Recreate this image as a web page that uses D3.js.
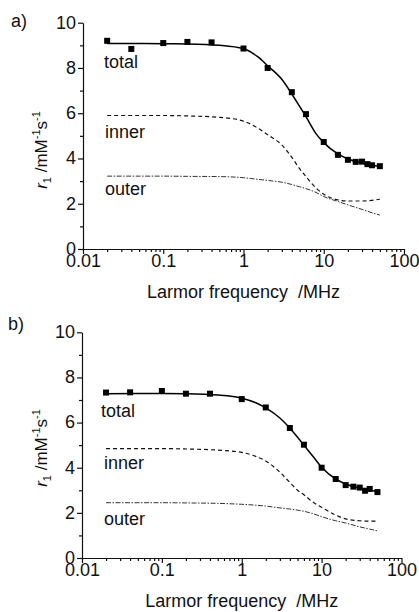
<!DOCTYPE html>
<html>
<head>
<meta charset="utf-8">
<script src="https://cdn.jsdelivr.net/npm/d3@7"></script>
<style>
  body { margin: 0; background: #fff; }
  svg { display: block; font-family: Arial, "Liberation Sans", sans-serif; }
</style>
</head>
<body>
<div id="chart"></div>
<script>
// measured points (MHz)
const pointFreq = [0.02, 0.04, 0.1, 0.2, 0.4, 1, 2, 4, 6, 10, 15, 20, 25, 30, 35, 40, 50];
const pointsA = [9.2, 8.84, 9.1, 9.15, 9.13, 8.86, 8.0, 6.93, 5.96, 4.73, 4.16, 3.94, 3.85, 3.86, 3.75, 3.7, 3.66];
const pointsB = [7.33, 7.34, 7.4, 7.28, 7.28, 7.04, 6.67, 5.76, 5.02, 4.0, 3.5, 3.23, 3.16, 3.12, 2.98, 3.06, 2.92];

// fitted curves
const curveFreq = [0.02, 0.05, 0.1, 0.2, 0.5, 1, 1.5, 2, 3, 4, 5, 6, 8, 10, 15, 20, 30, 40, 50];
const totalA = [9.08, 9.08, 9.07, 9.06, 9.0, 8.85, 8.5, 8.1, 7.5, 6.85, 6.3, 5.85, 5.1, 4.7, 4.2, 3.98, 3.8, 3.7, 3.65];
const innerA = [5.9, 5.9, 5.9, 5.88, 5.82, 5.65, 5.35, 5.05, 4.6, 4.05, 3.55, 3.2, 2.7, 2.42, 2.17, 2.12, 2.12, 2.15, 2.2];
const outerA = [3.22, 3.22, 3.22, 3.21, 3.2, 3.15, 3.08, 3.03, 2.95, 2.85, 2.75, 2.67, 2.5, 2.32, 2.1, 1.95, 1.75, 1.6, 1.5];
const totalB = [7.28, 7.29, 7.29, 7.28, 7.22, 7.08, 6.88, 6.65, 6.2, 5.75, 5.35, 5.0, 4.45, 4.02, 3.5, 3.28, 3.1, 3.0, 2.95];
const innerB = [4.85, 4.85, 4.85, 4.83, 4.78, 4.68, 4.5, 4.3, 3.8, 3.35, 3.0, 2.8, 2.45, 2.25, 1.9, 1.73, 1.65, 1.63, 1.63];
const outerB = [2.45, 2.45, 2.45, 2.44, 2.42, 2.38, 2.34, 2.3, 2.22, 2.17, 2.12, 2.07, 1.95, 1.83, 1.65, 1.55, 1.38, 1.28, 1.2];

const xMajor = [0.01, 0.1, 1, 10, 100];
const xMinor = [];
[0.01, 0.1, 1, 10].forEach(d => { for (let k = 2; k <= 9; k++) xMinor.push(d * k); });
const yMajor = [0, 2, 4, 6, 8, 10];
const yMinor = [1, 3, 5, 7, 9];

const width = 419, height = 612;
const svg = d3.select("#chart").append("svg")
    .attr("width", width)
    .attr("height", height);

function drawPanel(opt) {
    const x = d3.scaleLog().domain([0.01, 100]).range([opt.x0, opt.x1]);
    const y = d3.scaleLinear().domain([0, 10]).range([opt.y0, opt.y1]);
    const g = svg.append("g");

    // minor ticks first
    g.append("g")
        .attr("transform", `translate(0,${opt.y0})`)
        .call(d3.axisBottom(x).tickValues(xMinor).tickSize(3).tickFormat(""))
        .call(a => a.select(".domain").remove());
    g.append("g")
        .attr("transform", `translate(${opt.x0},0)`)
        .call(d3.axisLeft(y).tickValues(yMinor).tickSize(3).tickFormat(""))
        .call(a => a.select(".domain").remove());

    g.append("g")
        .attr("transform", `translate(0,${opt.y0})`)
        .call(d3.axisBottom(x).tickValues(xMajor).tickSizeInner(5).tickSizeOuter(0)
            .tickPadding(0).tickFormat(d3.format("~g")));
    const yAxis = g.append("g")
        .attr("transform", `translate(${opt.x0},0)`)
        .call(d3.axisLeft(y).tickValues(yMajor).tickSizeInner(5).tickSizeOuter(0)
            .tickPadding(2));
    yAxis.selectAll(".tick text").attr("dy", "0.3em");
    g.selectAll(".tick text").attr("font-size", 18).attr("font-family", null).attr("fill", "#111");
    g.selectAll(".tick line, .domain").attr("stroke", "#111").attr("stroke-width", 1.2);

    // curves
    const line = d3.line()
        .x((d, i) => x(curveFreq[i]))
        .y(d => y(d))
        .curve(d3.curveMonotoneX);

    g.append("path").datum(opt.outer)
        .attr("d", line).attr("fill", "none")
        .attr("stroke", "#333").attr("stroke-width", 1)
        .attr("stroke-dasharray", "5,1.5,1.5,1.5");
    g.append("path").datum(opt.inner)
        .attr("d", line).attr("fill", "none")
        .attr("stroke", "#111").attr("stroke-width", 1.2)
        .attr("stroke-dasharray", "4,3");
    g.append("path").datum(opt.total)
        .attr("d", line).attr("fill", "none")
        .attr("stroke", "#000").attr("stroke-width", 1.5);

    g.selectAll(".pt").data(opt.points).enter().append("rect")
        .attr("class", "pt")
        .attr("x", (d, i) => x(pointFreq[i]) - 3)
        .attr("y", d => y(d) - 3)
        .attr("width", 6).attr("height", 6)
        .attr("fill", "#000");

    // curve names
    opt.names.forEach(n => {
        g.append("text").attr("x", n.x).attr("y", n.y)
            .attr("font-size", 18).attr("fill", "#111").text(n.t);
    });

    g.append("text").attr("x", opt.tagX).attr("y", opt.tagY)
        .attr("font-size", 18).attr("fill", "#111").text(opt.tag);

    g.append("text")
        .attr("x", (opt.x0 + opt.x1) / 2)
        .attr("y", opt.y0 + 49)
        .attr("text-anchor", "middle")
        .attr("font-size", 18).attr("fill", "#111")
        .attr("xml:space", "preserve")
        .text("Larmor frequency  /MHz");

    const yl = g.append("text")
        .attr("transform", `translate(47,${opt.labelY}) rotate(-90)`)
        .attr("text-anchor", "middle")
        .attr("font-size", 17).attr("fill", "#111");
    yl.append("tspan").attr("font-style", "italic").text("r");
    yl.append("tspan").attr("font-size", 11).attr("dy", 4).text("1");
    yl.append("tspan").attr("dy", -4).text(" /mM");
    yl.append("tspan").attr("font-size", 11).attr("dy", -7).text("-1");
    yl.append("tspan").attr("dy", 7).text("s");
    yl.append("tspan").attr("font-size", 11).attr("dy", -7).text("-1");
}

drawPanel({
    x0: 83, x1: 404, y0: 249, y1: 22.7,
    points: pointsA, total: totalA, inner: innerA, outer: outerA,
    names: [{ t: "total", x: 104, y: 68 }, { t: "inner", x: 105, y: 138 }, { t: "outer", x: 105, y: 195 }],
    tag: "a)", tagX: 11, tagY: 27, labelY: 150
});

drawPanel({
    x0: 82, x1: 401.5, y0: 558, y1: 332.3,
    points: pointsB, total: totalB, inner: innerB, outer: outerB,
    names: [{ t: "total", x: 101, y: 417 }, { t: "inner", x: 104, y: 469 }, { t: "outer", x: 104, y: 525 }],
    tag: "b)", tagX: 8, tagY: 330, labelY: 448
});
</script>
</body>
</html>
